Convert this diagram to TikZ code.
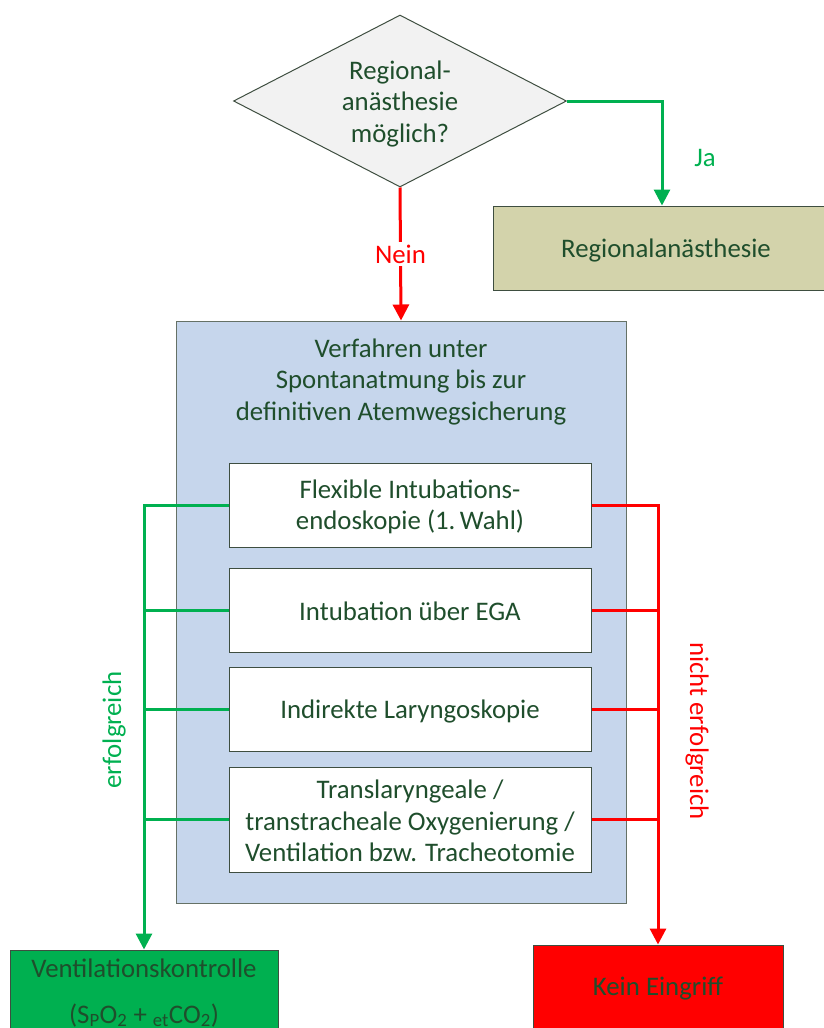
\documentclass[tikz,border=0pt]{standalone}
\usepackage{fontspec}
\setmainfont{Carlito}
\usetikzlibrary{arrows.meta,shapes.geometric}
\definecolor{txt}{HTML}{1F4E2C}
\definecolor{cgreen}{HTML}{00B050}
\definecolor{cred}{HTML}{FF0000}
\definecolor{bluefill}{HTML}{C6D6EC}
\definecolor{olivefill}{HTML}{D3D3AB}
\definecolor{diamfill}{HTML}{F2F2F2}
\definecolor{edge}{HTML}{3E4E40}
\begin{document}
\begin{tikzpicture}[x=1pt,y=-1pt,
  font=\fontsize{26.8}{31.5}\selectfont,
  every node/.style={text=txt, align=center},
  boxnode/.style={draw=edge, line width=1pt, inner sep=0pt, rectangle},
  stepbox/.style={boxnode, fill=white, minimum width=362pt},
  gline/.style={draw=cgreen, line width=3pt},
  rline/.style={draw=cred, line width=3pt},
  tip/.style={-{Triangle[width=16pt,length=16pt]}}
]
\useasboundingbox (0,0) rectangle (823,1028);

% decision
\node[shape=diamond, draw=edge, line width=1pt, fill=diamfill, inner sep=0pt,
      aspect=1.936, minimum width=333pt, minimum height=172pt] (q) at (400,101) {};
\node (qtext) at (400,103.5) {Regional-\\anästhesie\\möglich?};

% regional box
\node[boxnode, fill=olivefill, minimum width=370pt, minimum height=84pt] (ra) at (678,248) {};
\node (ratext) at (666,250) {Regionalanästhesie};

% blue container
\node[boxnode, draw=edge!80, fill=bluefill, minimum width=450pt, minimum height=582pt] (blue) at (401,612) {};
\node (title) at (401,381.5) {Verfahren unter\\Spontanatmung bis zur\\definitiven Atemwegsicherung};

% steps
\node[stepbox, minimum height=84pt] (b1) at (410,505) {};
\node (t1) at (410,507) {Flexible Intubations-\\endoskopie (1.\,Wahl)};
\node[stepbox, minimum height=84pt] (b2) at (410,610) {};
\node (t2) at (410,611.5) {Intubation über EGA};
\node[stepbox, minimum height=84pt] (b3) at (410,709.5) {};
\node (t3) at (410,711.5) {Indirekte Laryngoskopie};
\node[stepbox, minimum height=105pt] (b4) at (410,819.5) {};
\node (t4) at (410,821) {Translaryngeale /\\transtracheale Oxygenierung /\\Ventilation bzw. Tracheotomie};

% outcome boxes
\node[boxnode, fill=cgreen, minimum width=268pt, minimum height=86pt] (vk) at (144,993)
      {Ventilationskontrolle\\[14pt](S\textsubscript{P}O\textsubscript{2} + \textsubscript{et}CO\textsubscript{2})};
\node[boxnode, fill=cred, minimum width=250pt, minimum height=88pt] (ke) at (658,989)
      {Kein Eingriff};

% connectors top
\draw[gline, tip] (q.east) -- (q.east -| 662,0) coordinate (jt) -- (jt |- ra.north);
\node[text=cgreen] (ja) at (705,158) {Ja};
\draw[rline, tip] (q.south) -- node[fill=white, text=cred, inner sep=3pt] (nein) {Nein} (blue.north);

% success branches
\draw[gline, tip] (b1.west) -| (vk.north);
\draw[gline] (b2.west) -- (b2.west -| vk.north);
\draw[gline] (b3.west) -- (b3.west -| vk.north);
\draw[gline] (b4.west) -- (b4.west -| vk.north);

% failure branches
\draw[rline, tip] (b1.east) -| (ke.north);
\draw[rline] (b2.east) -- (b2.east -| ke.north);
\draw[rline] (b3.east) -- (b3.east -| ke.north);
\draw[rline] (b4.east) -- (b4.east -| ke.north);

\node[rotate=90, text=cgreen] (lg) at (114,730) {erfolgreich};
\node[rotate=-90, text=cred] (lr) at (697,731) {nicht erfolgreich};
\end{tikzpicture}
\end{document}
